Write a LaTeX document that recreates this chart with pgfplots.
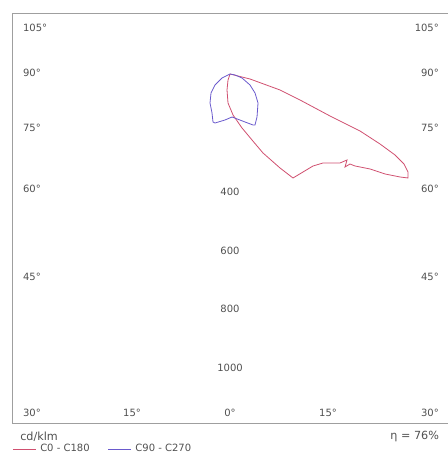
\documentclass[border=0pt]{standalone}
\usepackage{fontspec}
\setmainfont{DejaVu Sans}
\usepackage{pgfplots}
\pgfplotsset{compat=1.18}
\definecolor{cred}{HTML}{D05070}
\definecolor{cblue}{HTML}{6A5ACD}
\definecolor{txt}{HTML}{505050}
\begin{document}
\begin{tikzpicture}[font=\fontsize{5}{6}\selectfont]
\begin{axis}[
  scale only axis, width=223.5pt, height=227pt,
  xmin=-782, xmax=737.8, ymin=-1292, ymax=251.6,
  hide axis, clip=false,
  legend columns=2,
  legend style={at={(0.027,0.011)}, anchor=west, draw=none, fill=none,
    inner sep=0pt, font=\fontsize{5}{6}\selectfont, text=txt,
    /tikz/every even column/.append style={column sep=7pt}},
  legend image code/.code={\draw[#1] (0pt,0pt) -- (11.5pt,0pt);},
]
\coordinate (bl) at (axis cs:-782,-1292);
\coordinate (tr) at (axis cs:737.8,251.6);
% frame
\draw[gray!75, line width=0.45pt] (axis cs:-741.2,207.4) rectangle (axis cs:754.8,-1186.6);
% C0 - C180 (cd/klm, x = r sin g, y = -r cos g)
\addplot[cred, line width=0.4pt, mark=none] coordinates {
(0,0) (68,-17) (170,-54.4) (238,-88.4) (340,-142.8) (442,-193.8) (510,-238)
(561,-275.4) (591.6,-306) (605.2,-333.2) (605.2,-353.6) (578,-350.2) (527,-340)
(476,-323) (425,-312.8) (408,-306) (391,-316.2) (397.8,-292.4) (374,-302.6)
(316.2,-302.6) (282.2,-312.8) (248.2,-333.2) (214.2,-353.6) (170,-319.6)
(112.2,-268.6) (74.8,-224.4) (40.8,-183.6) (10.2,-139.4) (-6.8,-98.6)
(-10.2,-54.4) (-6.8,-20.4) (0,0)};
\addlegendentry{C0 - C180}
% C90 - C270
\addplot[cblue, line width=0.4pt, mark=none] coordinates {
(0,0) (-27.2,-13.6) (-51,-37.4) (-64.6,-64.6) (-68,-98.6) (-61.2,-132.6)
(-57.8,-163.2) (-51,-166.6) (-17,-156.4) (6.8,-146.2) (51,-163.2) (78.2,-173.4)
(85,-173.4) (91.8,-146.2) (95.2,-98.6) (85,-64.6) (68,-37.4) (40.8,-13.6)
(17,-3.4) (0,0)};
\addlegendentry{C90 - C270}
% angle labels
\begin{scope}[txt]
\node[anchor=west] at (axis cs:-727.6,156.4) {105°};
\node[anchor=west] at (axis cs:-727.6,3.4) {90°};
\node[anchor=west] at (axis cs:-727.6,-183.6) {75°};
\node[anchor=west] at (axis cs:-727.6,-391) {60°};
\node[anchor=west] at (axis cs:-727.6,-690.2) {45°};
\node[anchor=east] at (axis cs:734,156.4) {105°};
\node[anchor=east] at (axis cs:734,3.4) {90°};
\node[anchor=east] at (axis cs:734,-183.6) {75°};
\node[anchor=east] at (axis cs:734,-391) {60°};
\node[anchor=east] at (axis cs:734,-690.2) {45°};
\node[anchor=west] at (axis cs:-727.6,-1152.6) {30°};
\node at (axis cs:-333.2,-1152.6) {15°};
\node at (axis cs:0,-1152.6) {0°};
\node at (axis cs:333.2,-1152.6) {15°};
\node[anchor=east] at (axis cs:734,-1152.6) {30°};
\node at (axis cs:0,-400) {400};
\node at (axis cs:0,-600) {600};
\node at (axis cs:0,-800) {800};
\node at (axis cs:0,-1000) {1000};
\node[anchor=west, font=\fontsize{5.6}{6.5}\selectfont] at (axis cs:-737,-1234.2) {cd/klm};
\node[anchor=east, font=\fontsize{5.6}{6.5}\selectfont] at (axis cs:734.4,-1234.2) {η = 76\%};
\end{scope}
\end{axis}
\pgfresetboundingbox
\useasboundingbox (bl) rectangle (tr);
\end{tikzpicture}
\end{document}
